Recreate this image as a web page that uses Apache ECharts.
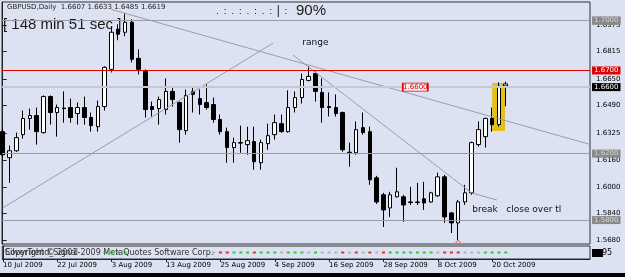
<!DOCTYPE html>
<html>
<head>
<meta charset="utf-8">
<script src="https://cdn.jsdelivr.net/npm/echarts@6/dist/echarts.min.js"></script>
<style>
html, body { margin: 0; padding: 0; background: #dce2f2; }
#chart { width: 625px; height: 277px; }
</style>
</head>
<body>
<div id="chart"></div>
<script>
// GBPUSD daily bars, 10 Jul 2009 .. 22 Oct 2009
const dates = [
  '10 Jul 2009', '13 Jul 2009', '14 Jul 2009', '15 Jul 2009', '16 Jul 2009', '17 Jul 2009', '20 Jul 2009', '21 Jul 2009',
  '22 Jul 2009', '23 Jul 2009', '24 Jul 2009', '27 Jul 2009', '28 Jul 2009', '29 Jul 2009', '30 Jul 2009', '31 Jul 2009',
  '3 Aug 2009', '4 Aug 2009', '5 Aug 2009', '6 Aug 2009', '7 Aug 2009', '10 Aug 2009', '11 Aug 2009', '12 Aug 2009',
  '13 Aug 2009', '14 Aug 2009', '17 Aug 2009', '18 Aug 2009', '19 Aug 2009', '20 Aug 2009', '21 Aug 2009', '24 Aug 2009',
  '25 Aug 2009', '26 Aug 2009', '27 Aug 2009', '28 Aug 2009', '31 Aug 2009', '1 Sep 2009', '2 Sep 2009', '3 Sep 2009',
  '4 Sep 2009', '7 Sep 2009', '8 Sep 2009', '9 Sep 2009', '10 Sep 2009', '11 Sep 2009', '14 Sep 2009', '15 Sep 2009',
  '16 Sep 2009', '17 Sep 2009', '18 Sep 2009', '21 Sep 2009', '22 Sep 2009', '23 Sep 2009', '24 Sep 2009', '25 Sep 2009',
  '28 Sep 2009', '29 Sep 2009', '30 Sep 2009', '1 Oct 2009', '2 Oct 2009', '5 Oct 2009', '6 Oct 2009', '7 Oct 2009',
  '8 Oct 2009', '9 Oct 2009', '12 Oct 2009', '13 Oct 2009', '14 Oct 2009', '15 Oct 2009', '16 Oct 2009', '19 Oct 2009',
  '20 Oct 2009', '21 Oct 2009', '22 Oct 2009'
];

// [open, close, low, high]
const ohlc = [
  [1.6332, 1.6193, 1.6163, 1.6356], [1.6175, 1.6217, 1.6024, 1.6248], [1.6217, 1.6296, 1.6211, 1.6326],
  [1.6314, 1.6411, 1.6290, 1.6459], [1.6411, 1.6429, 1.6344, 1.6471], [1.6429, 1.6332, 1.6254, 1.6477],
  [1.6326, 1.6543, 1.6320, 1.6550], [1.6543, 1.6447, 1.6374, 1.6550], [1.6447, 1.6477, 1.6302, 1.6495],
  [1.6474, 1.6471, 1.6386, 1.6574], [1.6477, 1.6417, 1.6386, 1.6531], [1.6441, 1.6477, 1.6374, 1.6507],
  [1.6477, 1.6417, 1.6374, 1.6543], [1.6417, 1.6368, 1.6332, 1.6447], [1.6362, 1.6483, 1.6332, 1.6519],
  [1.6483, 1.6719, 1.6459, 1.6725], [1.6707, 1.6930, 1.6688, 1.6966], [1.6948, 1.6918, 1.6882, 1.6978],
  [1.6930, 1.6990, 1.6906, 1.7043], [1.6990, 1.6767, 1.6749, 1.7008], [1.6773, 1.6707, 1.6676, 1.6827],
  [1.6694, 1.6465, 1.6417, 1.6707], [1.6483, 1.6465, 1.6423, 1.6513], [1.6471, 1.6525, 1.6374, 1.6543],
  [1.6465, 1.6574, 1.6435, 1.6652], [1.6574, 1.6525, 1.6483, 1.6604], [1.6507, 1.6344, 1.6266, 1.6513],
  [1.6338, 1.6550, 1.6314, 1.6586], [1.6574, 1.6556, 1.6447, 1.6604], [1.6531, 1.6495, 1.6435, 1.6586],
  [1.6507, 1.6477, 1.6465, 1.6616], [1.6495, 1.6405, 1.6386, 1.6537], [1.6405, 1.6332, 1.6314, 1.6435],
  [1.6332, 1.6236, 1.6145, 1.6356], [1.6236, 1.6266, 1.6145, 1.6296], [1.6266, 1.6263, 1.6205, 1.6368],
  [1.6254, 1.6278, 1.6193, 1.6362], [1.6272, 1.6151, 1.6103, 1.6362], [1.6145, 1.6266, 1.6103, 1.6284],
  [1.6260, 1.6308, 1.6223, 1.6380], [1.6314, 1.6386, 1.6284, 1.6435], [1.6380, 1.6332, 1.6326, 1.6435],
  [1.6332, 1.6477, 1.6326, 1.6580], [1.6477, 1.6537, 1.6447, 1.6574], [1.6537, 1.6646, 1.6501, 1.6682],
  [1.6640, 1.6664, 1.6634, 1.6725], [1.6682, 1.6574, 1.6513, 1.6694], [1.6568, 1.6477, 1.6386, 1.6652],
  [1.6483, 1.6477, 1.6423, 1.6568], [1.6477, 1.6441, 1.6423, 1.6556], [1.6447, 1.6223, 1.6211, 1.6453],
  [1.6205, 1.6208, 1.6121, 1.6266], [1.6205, 1.6344, 1.6193, 1.6393], [1.6356, 1.6326, 1.6314, 1.6447],
  [1.6332, 1.6042, 1.6012, 1.6362], [1.6054, 1.5909, 1.5897, 1.6066], [1.5952, 1.5861, 1.5758, 1.5964],
  [1.5873, 1.5952, 1.5819, 1.5970], [1.5940, 1.5970, 1.5935, 1.6115], [1.5940, 1.5891, 1.5789, 1.5952],
  [1.5909, 1.5906, 1.5891, 1.6000], [1.5909, 1.5906, 1.5891, 1.6024], [1.5928, 1.5903, 1.5861, 1.6030],
  [1.5909, 1.5964, 1.5903, 1.5970], [1.5946, 1.6060, 1.5940, 1.6085], [1.6060, 1.5819, 1.5783, 1.6072],
  [1.5843, 1.5783, 1.5722, 1.5849], [1.5783, 1.5909, 1.5680, 1.5921], [1.5909, 1.5964, 1.5891, 1.6012],
  [1.5964, 1.6266, 1.5952, 1.6272], [1.6254, 1.6344, 1.6242, 1.6393], [1.6302, 1.6411, 1.6236, 1.6417],
  [1.6411, 1.6374, 1.6332, 1.6477], [1.6374, 1.6604, 1.6362, 1.6628], [1.6607, 1.6619, 1.6485, 1.6633]
];

const priceTicks = [1.5680, 1.5840, 1.6000, 1.6160, 1.6325, 1.6490, 1.6650, 1.6815, 1.6975];
const dateTicks = [0, 8, 16, 24, 32, 40, 48, 56, 64, 72];

const levelLines = [1.6999, 1.7032, 1.6151, 1.5800];
const alertLevel = 1.6700;
const bidPrice = 1.6619;
const priceTag = 1.6600;

// [fromBar, fromPrice, toBar, toPrice]
const trendLines = [
  [16, 1.7067, 86.4, 1.6255],
  [0, 1.5873, 39.8, 1.6865],
  [42.7, 1.6793, 69.0, 1.5963],
  [69.0, 1.5963, 72.7, 1.5921]
];
const highlightBox = [72, 1.6625, 73.9, 1.6336];
const notes = [['range', 44.0, 1.6865], ['break   close over tl', 69.0, 1.5861]];
const arrowBars = [67];

// indicator sub-window: 1 up, -1 down, 0 flat, null none
const signals = [
  null, null, null, null, null, null, null, null, null, null, null, null, null, null, null,
  1, 1, 1, 1,
  null, null, null, null, null, null, null, null, null, null, null, null,
  0, -1, -1, 1, 1, 1, -1, 1, 1, 1, 0, 1, 1, 1, 0, 1, 0, 0, 0, -1, 0, -1, 0, -1, 0, -1,
  1, 1, 1, 1, 1, 1, 1, 0, -1, -1, -1, 0, 0, 0, 1, 1, 1, 1
];

const FONT = 'DejaVu Sans';
const X_MIN = -0.1;
const X_MAX = 86.4;

const chart = echarts.init(document.getElementById('chart'));

function tagLabel(bg, fg) {
  return {
    show: true,
    position: 'end',
    distance: 2,
    formatter: p => p.value.toFixed(4),
    backgroundColor: bg,
    color: fg,
    fontSize: 7,
    fontFamily: FONT,
    padding: [1, 2, 0, 2]
  };
}

const levelData = levelLines.map(v => ({
  yAxis: v,
  lineStyle: { color: '#9a9aa6', width: 1, type: 'solid' },
  label: tagLabel('#8a8a8a', '#d4d4d4')
}));
levelData.push({
  yAxis: alertLevel,
  lineStyle: { color: '#e00000', width: 1, type: 'solid' },
  label: tagLabel('#e00000', '#ffffff')
});
levelData.push({
  yAxis: bidPrice,
  lineStyle: { color: '#c8c8d4', width: 2, type: 'solid' },
  label: tagLabel('#000000', '#ffffff')
});

const trendData = trendLines.map(t => [
  { coord: [t[0], t[1]] },
  { coord: [t[2], t[3]] }
]);
trendData.push([
  { coord: [62.6, priceTag], lineStyle: { color: '#e00000', type: [3, 2] } },
  { coord: [63.9, priceTag] }
]);

const notePoints = notes.map(n => ({
  coord: [n[1], n[2]],
  symbol: 'rect',
  symbolSize: 1,
  itemStyle: { color: 'transparent' },
  label: {
    show: true, position: 'right', distance: 0,
    formatter: n[0], color: '#111', fontSize: 9, fontFamily: FONT
  }
}));
notePoints.push({
  coord: [60.7, priceTag],
  symbol: 'rect',
  symbolSize: [25, 8],
  itemStyle: { color: '#f4f4f8', borderColor: '#e00000', borderWidth: 1 },
  label: {
    show: true, position: 'inside',
    formatter: priceTag.toFixed(4), color: '#e00000', fontSize: 7, fontFamily: FONT
  }
});
arrowBars.forEach(i => {
  notePoints.push({
    coord: [i, ohlc[i][2] - 0.0012],
    symbol: 'path://M0,10 L5,0 L10,10',
    symbolSize: [7, 4],
    itemStyle: { color: 'transparent', borderColor: '#f07878', borderWidth: 1 },
    label: { show: false }
  });
});

const signalData = [];
signals.forEach((s, i) => {
  if (s === null) return;
  signalData.push({
    value: [i, 0],
    itemStyle: { color: s > 0 ? '#00c800' : (s < 0 ? '#e80000' : '#a8a8b0') }
  });
});

// ruler in the header strip
const ruler = [];
for (let k = 0; k < 10; k++) {
  const x = 217 + k * 7.6;
  if (k === 8) {
    ruler.push({ type: 'rect', shape: { x: x, y: 5, width: 1, height: 12 }, style: { fill: '#222' } });
  } else {
    ruler.push({ type: 'rect', shape: { x: x, y: 13, width: 1, height: 1 }, style: { fill: '#222' } });
    if (k % 2 === 1) {
      ruler.push({ type: 'rect', shape: { x: x, y: 9, width: 1, height: 1 }, style: { fill: '#222' } });
    }
  }
}

const last = ohlc[ohlc.length - 1];

const option = {
  animation: false,
  backgroundColor: '#dce2f2',
  grid: [
    { left: 2, right: 35, top: 2, height: 242, show: true, borderColor: '#333', borderWidth: 1, backgroundColor: 'transparent' },
    { left: 2, right: 35, top: 246, height: 13, show: true, borderColor: '#333', borderWidth: 1, backgroundColor: 'transparent' }
  ],
  xAxis: [
    {
      type: 'value', gridIndex: 0, min: X_MIN, max: X_MAX,
      axisLine: { show: false }, axisTick: { show: false }, axisLabel: { show: false }, splitLine: { show: false }
    },
    {
      type: 'value', gridIndex: 1, min: X_MIN, max: X_MAX,
      axisLine: { show: true, onZero: false, lineStyle: { color: '#222', width: 1 } },
      axisTick: { show: true, customValues: dateTicks, length: 3, lineStyle: { color: '#222' } },
      axisLabel: {
        customValues: dateTicks,
        formatter: v => dates[v],
        align: 'left', margin: 3, fontSize: 7, fontFamily: FONT, color: '#000'
      },
      splitLine: { show: false }
    }
  ],
  yAxis: [
    {
      type: 'value', gridIndex: 0, position: 'right', min: 1.5656, max: 1.7112,
      axisLine: { show: true, lineStyle: { color: '#222', width: 1 } },
      axisTick: { show: true, customValues: priceTicks, length: 4, lineStyle: { color: '#222' } },
      axisLabel: {
        customValues: priceTicks,
        formatter: v => v.toFixed(4),
        margin: 6, fontSize: 7, fontFamily: FONT, color: '#000'
      },
      splitLine: { show: false }
    },
    {
      type: 'value', gridIndex: 1, position: 'right', min: -1, max: 1,
      axisLine: { show: true, lineStyle: { color: '#222', width: 1 } },
      axisTick: { show: false }, axisLabel: { show: false }, splitLine: { show: false }
    }
  ],
  series: [
    {
      type: 'line',
      xAxisIndex: 0, yAxisIndex: 0, z: 1,
      data: [],
      markArea: {
        silent: true,
        itemStyle: { color: '#e2c21a' },
        data: [[
          { coord: [highlightBox[0], highlightBox[1]] },
          { coord: [highlightBox[2], highlightBox[3]] }
        ]]
      },
      markLine: {
        silent: true,
        symbol: ['none', 'none'],
        label: { show: false },
        lineStyle: { color: '#9c9cac', width: 1, type: 'solid' },
        data: trendData
      }
    },
    {
      type: 'candlestick',
      name: 'GBPUSD',
      xAxisIndex: 0, yAxisIndex: 0, z: 3,
      encode: { x: 0, y: [1, 2, 3, 4] },
      data: ohlc.map((d, i) => [i, d[0], d[1], d[2], d[3]]),
      barWidth: 4,
      itemStyle: {
        color: '#ffffff', color0: '#000000',
        borderColor: '#000000', borderColor0: '#000000', borderWidth: 1
      },
      markLine: {
        silent: true,
        symbol: ['none', 'none'],
        data: levelData
      },
      markPoint: {
        silent: true,
        data: notePoints
      }
    },
    {
      type: 'scatter',
      xAxisIndex: 1, yAxisIndex: 1,
      symbol: 'rect', symbolSize: [3, 2],
      data: signalData
    }
  ],
  graphic: [
    {
      type: 'text', left: 7, top: 4,
      style: {
        text: 'GBPUSD,Daily  ' + [last[0], last[3], last[2], last[1]].map(v => v.toFixed(4)).join(' '),
        font: '7px "DejaVu Sans"', fill: '#222'
      }
    },
    {
      type: 'text', left: 3, top: 17,
      style: { text: '[ 148 min 51 sec ]', font: '15px "Liberation Sans"', fill: '#1a1a1a' }
    },
    {
      type: 'text', left: 296, top: 3,
      style: { text: '90%', font: '15px "Liberation Sans"', fill: '#1a1a1a' }
    },
    ...ruler,
    {
      type: 'text', left: 5, top: 249,
      style: { text: 'SilverTrend_Signal', font: '8px "DejaVu Sans"', fill: '#333' }
    },
    {
      type: 'text', left: 5, top: 249,
      style: { text: 'Copyright \u00a9 2001-2009 MetaQuotes Software Corp.', font: '8px "DejaVu Sans"', fill: '#333' }
    },
    {
      type: 'rect', shape: { x: 592, y: 249, width: 11, height: 8 }, style: { fill: '#000' }
    },
    {
      type: 'text', left: 602, top: 249,
      style: { text: '95', font: '8px "DejaVu Sans"', fill: '#000' }
    },
    {
      type: 'rect', shape: { x: 0, y: 273, width: 625, height: 4 }, style: { fill: '#000' }
    }
  ]
};

chart.setOption(option);
</script>
</body>
</html>
